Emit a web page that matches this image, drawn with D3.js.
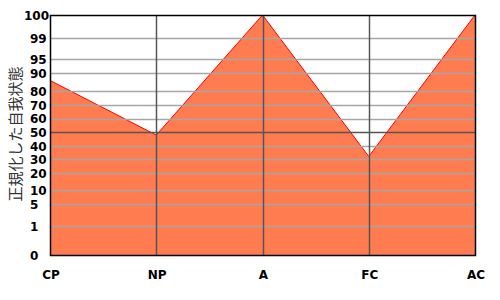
<!DOCTYPE html>
<html>
<head>
<meta charset="utf-8">
<script src="https://cdn.jsdelivr.net/npm/d3@7"></script>
<style>
  body { margin: 0; background: #fff; }
  text { font-family: "DejaVu Sans", sans-serif; }
</style>
</head>
<body>
<script>
  // egogram categories and normalized scores
  const categories = ["CP", "NP", "A", "FC", "AC"];
  const scores = [86, 48, 100, 32, 100];

  // percentile ticks on the y axis
  const yTicks = [0, 1, 5, 10, 20, 30, 40, 50, 60, 70, 80, 90, 95, 99, 100];
  // relative height of each tick (0 = bottom, 1 = top)
  const yTickFrac = [0, 0.12, 0.2125, 0.27, 0.34, 0.40, 0.454, 0.511, 0.567, 0.624, 0.683, 0.757, 0.815, 0.903, 1];

  const yTitle = "正規化した自我状態";

  const W = 500, H = 300;
  const m = { left: 50, right: 25, top: 15, bottom: 45 };
  const iw = W - m.left - m.right, ih = H - m.top - m.bottom;

  const svg = d3.select("body").append("svg")
    .attr("width", W).attr("height", H);

  const x = d3.scalePoint().domain(categories).range([m.left, m.left + iw]);
  const y = d3.scaleLinear()
    .domain(yTicks)
    .range(yTickFrac.map(f => m.top + ih * (1 - f)));

  const data = categories.map((c, i) => ({ cat: c, v: scores[i] }));

  // filled area
  const area = d3.area()
    .x(d => x(d.cat))
    .y0(y(0))
    .y1(d => y(d.v));
  svg.append("path")
    .datum(data)
    .attr("d", area)
    .attr("fill", "#ff7b50");
  svg.append("path")
    .datum(data)
    .attr("d", d3.line().x(d => x(d.cat)).y(d => y(d.v)))
    .attr("fill", "none")
    .attr("stroke", "#ff0000")
    .attr("stroke-width", 1);

  // horizontal grid lines
  svg.append("g")
    .selectAll("line")
    .data(yTicks.filter(t => t !== 0 && t !== 100))
    .join("line")
    .attr("x1", m.left).attr("x2", m.left + iw)
    .attr("y1", d => Math.round(y(d)) + 0.5)
    .attr("y2", d => Math.round(y(d)) + 0.5)
    .attr("stroke", d => d === 50 ? "#555" : "#a6a6a6")
    .attr("stroke-width", 1.5);

  // vertical grid lines
  svg.append("g")
    .selectAll("line")
    .data(categories.slice(1, -1))
    .join("line")
    .attr("x1", d => Math.round(x(d)) + 0.5)
    .attr("x2", d => Math.round(x(d)) + 0.5)
    .attr("y1", m.top).attr("y2", m.top + ih)
    .attr("stroke", "#555")
    .attr("stroke-width", 1.5);

  // frame
  svg.append("rect")
    .attr("x", m.left + 0.5).attr("y", m.top + 0.5)
    .attr("width", iw).attr("height", ih)
    .attr("fill", "none")
    .attr("stroke", "#000")
    .attr("stroke-width", 1.5);

  // y tick labels
  svg.append("g")
    .selectAll("text")
    .data(yTicks)
    .join("text")
    .attr("x", d => String(d).length > 2 ? 49 : 30)
    .attr("y", d => y(d) + 1)
    .attr("text-anchor", d => String(d).length > 2 ? "end" : "start")
    .attr("dominant-baseline", "middle")
    .attr("font-size", 12)
    .attr("font-weight", "bold")
    .attr("fill", "#000")
    .text(d => d);

  // x labels
  svg.append("g")
    .selectAll("text")
    .data(categories)
    .join("text")
    .attr("x", d => x(d) + 1)
    .attr("y", 275)
    .attr("text-anchor", "middle")
    .attr("dominant-baseline", "middle")
    .attr("font-size", 12)
    .attr("font-weight", "bold")
    .attr("fill", "#000")
    .text(d => d);

  // y title
  svg.append("text")
    .attr("transform", `translate(17,${m.top + ih / 2 - 1}) rotate(-90)`)
    .attr("text-anchor", "middle")
    .attr("dominant-baseline", "middle")
    .attr("font-size", 15)
    .attr("fill", "#333")
    .style("font-family", "'Noto Sans CJK JP', sans-serif")
    .text(yTitle);
</script>
</body>
</html>
